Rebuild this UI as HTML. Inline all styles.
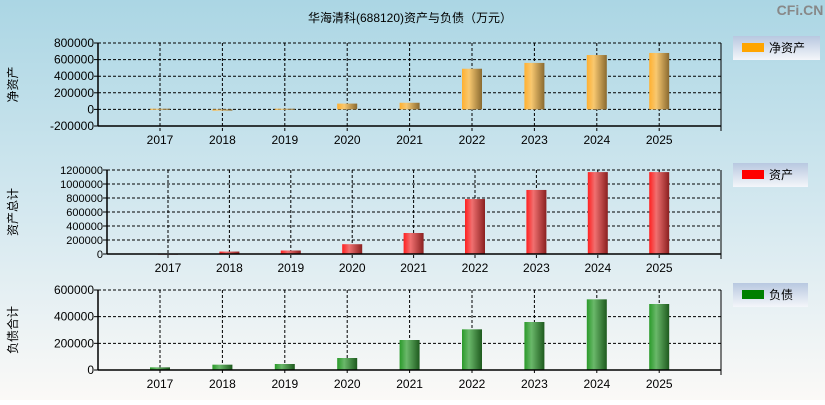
<!DOCTYPE html>
<html><head><meta charset="utf-8"><style>
body{margin:0;width:825px;height:400px;overflow:hidden;font-family:"Liberation Sans","Noto Sans CJK SC",sans-serif}
</style></head><body>
<svg id="c" width="825" height="400" xmlns="http://www.w3.org/2000/svg" font-family="Liberation Sans, Noto Sans CJK SC, sans-serif">
<defs>
<linearGradient id="bg" x1="0" y1="0" x2="0" y2="1"><stop offset="0" stop-color="#abd6e4"/><stop offset="0.55" stop-color="#d6e9f0"/><stop offset="1" stop-color="#fbf9f7"/></linearGradient>
<linearGradient id="gO" x1="0" x2="1"><stop offset="0" stop-color="#ffb030"/><stop offset="0.35" stop-color="#f8c870"/><stop offset="1" stop-color="#8a6a30"/></linearGradient>
<linearGradient id="gR" x1="0" x2="1"><stop offset="0" stop-color="#ff2020"/><stop offset="0.35" stop-color="#f07070"/><stop offset="1" stop-color="#8a2020"/></linearGradient>
<linearGradient id="gG" x1="0" x2="1"><stop offset="0" stop-color="#2a9a2a"/><stop offset="0.35" stop-color="#6ab86a"/><stop offset="1" stop-color="#1e5a1e"/></linearGradient>
<linearGradient id="lg" x1="0" y1="0" x2="0" y2="1"><stop offset="0" stop-color="#b8c8e0"/><stop offset="1" stop-color="#f4f6fa"/></linearGradient>
</defs>
<rect width="825" height="400" fill="url(#bg)"/>
<text x="410" y="22" font-size="12" text-anchor="middle">华海清科(688120)资产与负债（万元）</text>
<text x="800" y="15" font-size="14" font-weight="bold" fill="#888" text-anchor="middle">CFi.CN</text>
<g id="g"></g>
</svg>
<script>
const years=["2017","2018","2019","2020","2021","2022","2023","2024","2025"];
const netAssets=[8000,-15000,8000,70000,80000,490000,560000,655000,680000];
const totalAssets=[5000,35000,50000,140000,300000,785000,915000,1170000,1170000];
const liabilities=[20000,40000,45000,90000,225000,305000,360000,530000,495000];
const ticks1=[-200000,0,200000,400000,600000,800000];
const ticks2=[0,200000,400000,600000,800000,1000000,1200000];
const ticks3=[0,200000,400000,600000];
const NS="http://www.w3.org/2000/svg",G=document.getElementById('g');
function mk(t,a,p){const e=document.createElementNS(NS,t);for(const k in a)e.setAttribute(k,a[k]);(p||G).appendChild(e);return e;}
function panel(o){
 const {left,right,top,bottom,min,max,ticks,vals,fill,yTitle,legend,legY,legW,legColor,fs,key,x0,step}=o;
 const y=v=>bottom-(v-min)/(max-min)*(bottom-top);
 const x=i=>x0+i*step;
 const g=mk('g',{});
 
 
 ticks.forEach(t=>{
  const l=mk('line',{x1:left,x2:right,y1:y(t),y2:y(t),stroke:'#000','stroke-dasharray':'3,2','stroke-width':1},g);
  
  
  const tx=mk('text',{x:left-4,y:y(t)+4,'font-size':fs,'text-anchor':'end'},g);
  tx.textContent=t;
  
  
  mk('line',{x1:left-4,x2:left,y1:y(t),y2:y(t),stroke:'#000'},g);
 });
 years.forEach((yr,i)=>{
  const gl=mk('line',{x1:x(i),x2:x(i),y1:top,y2:bottom+5,stroke:'#000','stroke-dasharray':'3,2'},g);
  
  
  const tx=mk('text',{x:x(i),y:bottom+18,'font-size':12,'text-anchor':'middle'},g);
  tx.textContent=yr;
  
  
  const v=vals[i],y0=y(Math.max(0,min)),y1=y(v);
  const b=mk('rect',{x:x(i)-10,y:Math.min(y0,y1),width:20,height:Math.max(1,Math.abs(y0-y1)),fill:fill},g);
  
  
 });
 mk('line',{x1:left,x2:left,y1:top,y2:bottom,stroke:'#000','stroke-width':1.5},g);
 mk('line',{x1:left,x2:right,y1:bottom,y2:bottom,stroke:'#000','stroke-width':1.5},g);
 mk('line',{x1:right,x2:right,y1:top,y2:bottom+5,stroke:'#000'},g);
 const cy=(top+bottom)/2;
 const yt=mk('text',{x:0,y:0,'font-size':12,'text-anchor':'middle',transform:`translate(17,${cy}) rotate(-90)`},g);
 yt.textContent=yTitle;
 
 
 const lg=mk('g',{},g);
 
 
 mk('rect',{x:733,y:legY,width:legW,height:24,fill:'url(#lg)'},lg);
 mk('rect',{x:742,y:legY+7,width:22,height:9,fill:legColor},lg);
 const lt=mk('text',{x:769,y:legY+16,'font-size':12},lg);
 lt.textContent=legend;
}
panel({key:'net-assets',left:98,right:721,top:43,bottom:126,min:-200000,max:800000,ticks:ticks1,vals:netAssets,fill:'url(#gO)',yTitle:'净资产',legend:'净资产',legY:36,legW:87,legColor:'#ffa500',fs:12,x0:160,step:62.4});
panel({key:'total-assets',left:107,right:721,top:170,bottom:254,min:0,max:1200000,ticks:ticks2,vals:totalAssets,fill:'url(#gR)',yTitle:'资产总计',legend:'资产',legY:163,legW:75,legColor:'#ff0000',fs:11,x0:168,step:61.4});
panel({key:'liabilities',left:98,right:721,top:290,bottom:370,min:0,max:600000,ticks:ticks3,vals:liabilities,fill:'url(#gG)',yTitle:'负债合计',legend:'负债',legY:283,legW:75,legColor:'#008000',fs:12,x0:160,step:62.4});
</script>
</body></html>
